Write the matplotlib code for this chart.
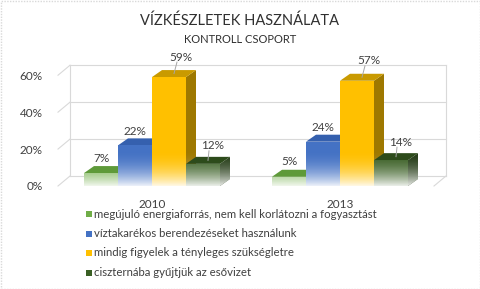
import numpy as np
import matplotlib
matplotlib.use("Agg")
import matplotlib.pyplot as plt
from matplotlib.patches import Polygon, Rectangle

plt.rcParams['font.family'] = ['Lato', 'DejaVu Sans']

# adatok
years = ['2010', '2013']
series = ['megújuló energiaforrás, nem kell korlátozni a fogyasztást',
          'víztakarékos berendezéseket használunk',
          'mindig figyelek a tényleges szükségletre',
          'ciszternába gyűjtjük az esővizet']
values = [[7, 5], [22, 24], [59, 57], [12, 14]]
labels = [['7%', '5%'], ['22%', '24%'], ['59%', '57%'], ['12%', '14%']]

front_c = ['#70AD47', '#4472C4', '#FFC000', '#3A5F24']
top_c = ['#5E9A39', '#3560AE', '#C99A00', '#2D4B1B']
side_c = ['#4C7E2E', '#2D4F8C', '#9E7800', '#233A15']

W, H = 480, 289
fig = plt.figure(figsize=(W / 100, H / 100), dpi=100)
ax = fig.add_axes([58 / W, (H - 186) / H, 376 / W, 120 / H])
ax.set_xlim(-0.5, 1.5)
ax.set_ylim(0, 65)
for s in ax.spines.values():
    s.set_visible(False)

# pixel -> adat
px_x = 2 / 376
px_y = 65 / 120
dx, dy = 10 * px_x, 7 * px_y      # oszlop mélység
bdx, bdy = 12 * px_x, 10 * px_y   # hátsó fal

grid_c = '#D9D9D9'
for v in [0, 20, 40, 60]:
    ax.plot([-0.5 + bdx, 1.5 + bdx], [v + bdy, v + bdy], color=grid_c, lw=0.8, clip_on=False, zorder=1)
    ax.plot([-0.5, -0.5 + bdx], [v, v + bdy], color=grid_c, lw=0.8, clip_on=False, zorder=1)
ax.plot([-0.5 + bdx] * 2, [bdy, 60 + bdy], color=grid_c, lw=0.8, clip_on=False, zorder=1)
ax.plot([1.5 + bdx] * 2, [bdy, 60 + bdy], color=grid_c, lw=0.8, clip_on=False, zorder=1)
ax.plot([1.5, 1.5 + bdx], [0, bdy], color=grid_c, lw=0.8, clip_on=False, zorder=1)

w = 34 / 188
fade_h = 20
grad = np.linspace(1, 0, 64) ** 2.0 * 0.9
img = np.ones((64, 1, 4))
img[:, 0, 3] = grad  # origin lower -> első sor alul

lab_off = [(0, 8), (0, 7), (12, 13), (10, 11)]
z = 2
for g in range(len(years)):
    for i in range(len(series)):
        v = values[i][g]
        x0 = g + (i - 2) * w
        x1 = x0 + w
        side = Polygon([(x1, 0), (x1, v), (x1 + dx, v + dy), (x1 + dx, dy)],
                       closed=True, fc=side_c[i], ec='none', zorder=z)
        top = Polygon([(x0, v), (x1, v), (x1 + dx, v + dy), (x0 + dx, v + dy)],
                      closed=True, fc=top_c[i], ec='none', zorder=z)
        front = Rectangle((x0, 0), w, v, fc=front_c[i], ec='none', zorder=z + 0.1)
        for p in (side, top, front):
            ax.add_patch(p)
        # kifakulás alul
        for p, zz in ((side, z + 0.05), (front, z + 0.15)):
            im = ax.imshow(img, extent=[x0, x1 + dx, 0, fade_h], origin='lower',
                           aspect='auto', zorder=zz, interpolation='bilinear')
            im.set_clip_path(p)
        # felirat
        ox, oy = lab_off[i]
        cx = x0 + w / 2
        tx = cx + ox * px_x
        ty = v + dy + oy * px_y
        ax.text(tx, ty, labels[i][g], ha='center', va='center', fontsize=8.5,
                color='#404040', zorder=20, clip_on=False)
        if i >= 2:
            ax.plot([tx - 4 * px_x, cx + dx / 2], [ty - 5 * px_y, v + dy / 2],
                    color='#A6A6A6', lw=0.7, zorder=19, clip_on=False)
        z += 1

ax.set_xlim(-0.5, 1.5)
ax.set_ylim(0, 65)
ax.set_yticks([0, 20, 40, 60])
ax.set_yticklabels([f'{t}%' for t in [0, 20, 40, 60]])
ax.set_xticks([0, 1])
ax.set_xticklabels(years)
ax.tick_params(length=0, labelsize=8.5, labelcolor='#404040')
ax.tick_params(axis='y', pad=11)
ax.tick_params(axis='x', pad=9)

fig.text(0.5, 1 - 21 / H, 'VÍZKÉSZLETEK HASZNÁLATA', ha='center', va='center',
         fontsize=10.5, color='#303030')
fig.text(0.5, 1 - 39 / H, 'KONTROLL CSOPORT', ha='center', va='center',
         fontsize=8, color='#303030')

# jelmagyarázat
for i, name in enumerate(series):
    yy = 214 + i * 19.5
    fig.patches.append(Rectangle((86 / W, 1 - (yy + 3) / H), 6 / W, 6 / H,
                                 fc=front_c[i], ec='none', transform=fig.transFigure))
    fig.text(94 / W, 1 - yy / H, name, ha='left', va='center', fontsize=8.2, color='#404040')

fig.patches.append(Rectangle((0.5 / W, 0.5 / H), 1 - 1 / W, 1 - 1 / H, fill=False,
                             ec='#D9D9D9', lw=1, ls=(0, (1, 1)), transform=fig.transFigure))

fig.savefig('out.png', dpi=100)
